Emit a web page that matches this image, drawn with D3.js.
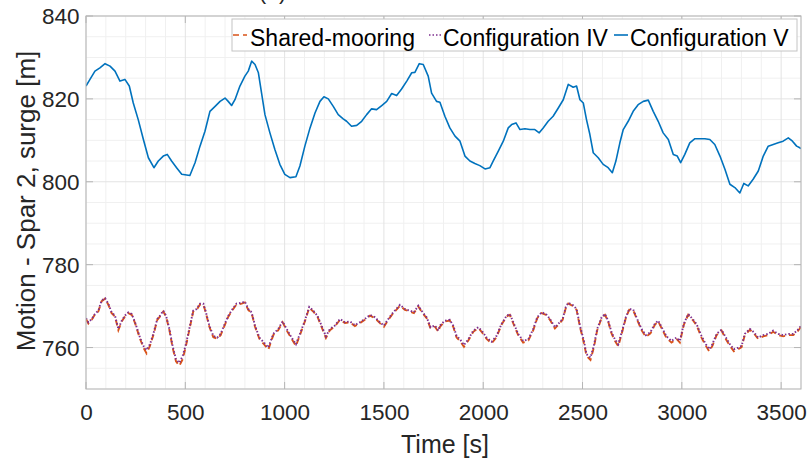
<!DOCTYPE html>
<html><head><meta charset="utf-8">
<script src="https://cdn.jsdelivr.net/npm/d3@7"></script>
<style>
html,body{margin:0;padding:0;background:#fff;}
svg{display:block;font-family:"Liberation Sans",Arial,sans-serif;}
</style></head>
<body>
<svg id="c" width="810" height="461"></svg>
<script>
// ---- data ----
const seriesNames = ["Shared-mooring", "Configuration IV", "Configuration V"];
const xTicks = [0, 500, 1000, 1500, 2000, 2500, 3000, 3500];
const yTicks = [760, 780, 800, 820, 840];
const titleText = "(a)";

const timeV = [0,20,45,70,96,121,146,171,196,218,238,263,289,314,342,364,389,409,431,456,482,523,549,574,599,624,650,675,700,716,733,750,775,800,817,834,851,868,884,901,926,951,976,1001,1027,1057,1077,1102,1128,1153,1178,1198,1220,1245,1270,1295,1312,1337,1363,1388,1413,1438,1463,1489,1514,1539,1564,1589,1615,1640,1656,1678,1698,1723,1740,1765,1782,1807,1832,1858,1883,1908,1933,1958,1983,2009,2034,2050,2076,2101,2126,2143,2165,2185,2210,2235,2260,2282,2302,2327,2352,2378,2403,2428,2453,2470,2487,2504,2520,2537,2554,2579,2604,2629,2650,2668,2688,2705,2730,2755,2780,2806,2831,2856,2881,2906,2932,2957,2977,2994,3015,3040,3066,3091,3116,3141,3166,3192,3217,3242,3267,3292,3312,3334,3359,3385,3410,3435,3460,3485,3510,3536,3557,3578,3594,3600];
const surgeV = [823.1,824.7,826.7,827.5,828.5,827.9,826.7,824.3,824.7,823.1,819.0,815.0,810.2,805.8,803.4,805.0,806.2,806.6,805.0,803.4,801.8,801.5,804.6,808.6,812.2,817.0,818.2,819.4,820.2,819.4,818.4,819.8,823.1,825.5,826.7,829.1,828.3,826.3,821.4,816.2,811.8,807.8,804.2,801.8,801.0,801.2,803.8,808.6,813.0,816.6,819.4,820.5,820.0,818.2,816.2,815.2,814.6,813.4,813.6,814.6,816.2,817.6,817.4,818.4,819.4,821.3,820.8,822.4,824.3,826.3,826.4,828.5,828.3,825.5,821.4,819.4,819.2,815.8,813.0,811.0,809.8,806.2,805.0,804.4,803.9,803.1,803.4,805.0,807.4,809.8,813.0,813.8,814.2,812.6,812.8,812.6,812.6,811.8,813.0,814.6,815.8,817.8,819.8,823.5,822.8,823.1,819.8,819.0,815.0,811.4,807.0,805.8,804.2,803.4,802.2,805.0,809.4,812.6,814.6,817.0,818.6,819.4,819.7,817.0,814.6,811.8,810.2,806.6,806.2,804.6,806.6,809.4,810.4,810.4,810.4,810.2,809.0,806.2,803.0,799.4,798.6,797.3,799.6,799.0,800.6,802.6,806.2,808.6,809.0,809.4,809.8,810.6,809.8,808.6,808.2,808.0];

const timeLow = [0,12,29,45,62,79,96,112,129,146,163,180,196,213,230,247,272,289,305,322,339,359,373,389,403,420,436,453,470,487,503,520,540,557,574,591,604,621,641,661,678,695,717,738,758,784,800,817,834,851,873,896,918,943,968,990,1010,1035,1057,1077,1102,1124,1144,1165,1186,1208,1228,1253,1279,1304,1329,1354,1379,1404,1430,1455,1480,1500,1522,1547,1581,1606,1631,1651,1673,1695,1715,1735,1757,1774,1782,1807,1832,1849,1866,1883,1903,1925,1950,1975,1992,2017,2042,2067,2092,2118,2134,2155,2176,2201,2227,2252,2272,2294,2316,2336,2361,2378,2400,2416,2428,2453,2470,2487,2507,2520,2540,2557,2574,2596,2613,2629,2646,2663,2680,2702,2718,2735,2755,2775,2797,2819,2842,2864,2881,2903,2923,2948,2973,2990,3010,3032,3054,3074,3099,3121,3138,3154,3175,3200,3222,3242,3262,3284,3301,3317,3343,3363,3384,3410,3435,3460,3485,3510,3536,3561,3581,3594,3600];
const surgeIV = [767.1,766.1,766.9,768.1,768.9,771.4,771.9,770.6,768.5,767.7,764.5,766.5,767.7,768.5,768.1,766.1,762.4,760.4,759.4,760.8,763.3,766.9,767.7,768.9,767.7,764.5,760.4,757.2,756.3,758.0,760.8,764.5,768.9,769.3,770.6,770.6,768.5,765.3,762.8,762.4,763.3,765.3,767.7,769.3,770.6,770.8,771.1,769.3,768.5,765.3,762.4,761.2,760.0,763.3,764.5,766.3,764.5,762.4,760.8,763.3,766.5,769.8,768.9,767.7,765.3,762.7,764.5,765.3,766.9,766.1,766.3,765.4,766.1,766.9,767.9,767.3,766.1,765.3,766.9,768.5,770.3,769.3,768.9,768.5,770.1,768.5,767.3,764.9,765.3,764.1,765.3,766.5,766.7,765.3,762.8,762.0,760.6,762.0,764.1,764.9,764.1,762.4,761.4,762.8,765.7,767.7,768.1,765.7,763.3,761.6,762.0,764.5,767.3,768.5,768.1,766.9,764.9,765.7,766.9,769.8,770.8,770.2,769.3,765.3,761.6,758.4,757.6,760.4,764.5,767.3,768.1,766.5,763.7,762.0,760.8,764.5,767.3,769.3,769.2,766.9,764.5,763.0,763.7,765.7,766.5,764.5,762.7,761.6,762.4,761.6,765.7,768.1,766.9,765.7,762.8,760.8,759.6,760.8,763.3,764.3,762.4,760.8,759.6,760.0,760.4,763.3,764.5,763.7,762.4,763.0,763.3,764.1,763.3,763.0,763.3,763.3,764.1,764.9,765.2];
const surgeShared = [766.9,765.8,766.7,768.0,768.7,771.2,771.8,770.4,768.3,767.5,764.2,766.3,767.5,768.3,767.9,765.9,762.1,760.0,758.6,760.4,763.0,766.7,767.5,768.7,767.5,764.2,760.0,756.7,755.6,757.2,760.3,764.2,768.7,769.1,770.4,770.4,768.3,765.0,762.5,762.1,763.0,765.0,767.5,769.1,770.4,770.6,770.9,769.1,768.3,765.0,762.1,760.8,759.5,763.0,764.2,766.1,764.2,762.1,760.4,763.0,766.3,769.6,768.7,767.5,765.0,762.3,764.2,765.1,766.7,765.9,766.1,765.2,765.9,766.7,767.7,767.1,765.9,765.0,766.7,768.3,770.1,769.1,768.7,768.3,769.9,768.3,767.1,764.6,765.0,763.8,765.0,766.3,766.5,765.0,762.4,761.6,760.2,761.7,763.8,764.7,763.8,762.1,761.0,762.5,765.5,767.5,767.9,765.4,763.0,761.2,761.7,764.2,767.1,768.3,767.9,766.7,764.6,765.5,766.7,769.6,770.6,770.0,769.1,765.0,761.1,758.0,757.0,760.0,764.2,767.1,767.9,766.3,763.4,761.6,760.3,764.2,767.1,769.1,769.0,766.7,764.2,762.6,763.4,765.5,766.3,764.2,762.3,761.2,762.1,761.2,765.5,767.9,766.7,765.4,762.4,760.4,759.1,760.4,763.0,764.1,762.0,760.4,759.1,759.6,760.1,763.0,764.3,763.4,762.1,762.7,763.0,763.8,763.0,762.7,763.0,763.0,763.8,764.6,765.0];

// ---- layout ----
const L = 86, R = 801, T = 16, B = 389;
const svg = d3.select("#c");
const x = d3.scaleLinear().domain([0, 3600]).range([L, R]);
const y = d3.scaleLinear().domain([750, 840]).range([B, T]);

const colors = {"Shared-mooring": "#D95319", "Configuration IV": "#7E2F8E", "Configuration V": "#0072BD"};
const dashes = {"Shared-mooring": "6,4", "Configuration IV": "1.5,2", "Configuration V": null};
const widths = {"Shared-mooring": 1.9, "Configuration IV": 1.9, "Configuration V": 1.6};

// title (cut off at top, as in the reference)
svg.append("text").attr("x", 272.5).attr("y", -1.5).attr("text-anchor", "middle")
  .attr("font-size", 23).attr("fill", "#262626").text(titleText);

// grid
const g = svg.append("g");
const minorX = d3.range(0, 3601, 100).filter(v => v % 500 !== 0);
const minorY = d3.range(750, 841, 5).filter(v => v % 20 !== 0);
g.selectAll(".mx").data(minorX).join("line")
  .attr("x1", d => x(d)).attr("x2", d => x(d)).attr("y1", T).attr("y2", B)
  .attr("stroke", "#f0f0f0").attr("stroke-width", 1);
g.selectAll(".my").data(minorY).join("line")
  .attr("x1", L).attr("x2", R).attr("y1", d => y(d)).attr("y2", d => y(d))
  .attr("stroke", "#f0f0f0").attr("stroke-width", 1);
g.selectAll(".gx").data(xTicks).join("line")
  .attr("x1", d => x(d)).attr("x2", d => x(d)).attr("y1", T).attr("y2", B)
  .attr("stroke", "#e3e3e3").attr("stroke-width", 1);
g.selectAll(".gy").data(yTicks).join("line")
  .attr("x1", L).attr("x2", R).attr("y1", d => y(d)).attr("y2", d => y(d))
  .attr("stroke", "#e3e3e3").attr("stroke-width", 1);

// clip
svg.append("clipPath").attr("id", "clip").append("rect")
  .attr("x", L).attr("y", T).attr("width", R - L).attr("height", B - T);

const line = d3.line().x(d => x(d[0])).y(d => y(d[1]));
const plot = svg.append("g").attr("clip-path", "url(#clip)");
const mk = (ts, vs) => ts.map((t, i) => [t, vs[i]]);

plot.append("path").datum(mk(timeV, surgeV)).attr("d", line)
  .attr("fill", "none").attr("stroke", colors["Configuration V"]).attr("stroke-width", widths["Configuration V"])
  .attr("stroke-linejoin", "round");
plot.append("path").datum(mk(timeLow, surgeShared)).attr("d", line)
  .attr("fill", "none").attr("stroke", colors["Shared-mooring"]).attr("stroke-width", widths["Shared-mooring"])
  .attr("stroke-dasharray", dashes["Shared-mooring"]);
plot.append("path").datum(mk(timeLow, surgeIV)).attr("d", line)
  .attr("fill", "none").attr("stroke", colors["Configuration IV"]).attr("stroke-width", widths["Configuration IV"])
  .attr("stroke-dasharray", dashes["Configuration IV"]);

// axes box
const axCol = "#b5b5b5";
svg.append("rect").attr("x", L).attr("y", T).attr("width", R - L).attr("height", B - T)
  .attr("fill", "none").attr("stroke", axCol).attr("stroke-width", 1);
const tl = 7;
const axX = svg.append("g").attr("transform", `translate(0,${B})`)
  .call(d3.axisBottom(x).tickValues(xTicks).tickSize(0).tickPadding(0).tickFormat(d3.format("d")));
axX.select(".domain").remove();
axX.selectAll("text").attr("font-size", 22.5).attr("fill", "#262626")
  .attr("font-family", "Liberation Sans, Arial, sans-serif").attr("dy", null).attr("y", 31);
const axY = svg.append("g").attr("transform", `translate(${L},0)`)
  .call(d3.axisLeft(y).tickValues(yTicks).tickSize(0).tickPadding(0).tickFormat(d3.format("d")));
axY.select(".domain").remove();
axY.selectAll("text").attr("font-size", 22.5).attr("fill", "#262626")
  .attr("font-family", "Liberation Sans, Arial, sans-serif").attr("x", -6.5).attr("dy", "0.35em");
// inward ticks on all four sides
svg.append("g").selectAll("line").data(xTicks).join("line")
  .attr("x1", d => x(d)).attr("x2", d => x(d)).attr("y1", B).attr("y2", B - tl).attr("stroke", axCol);
svg.append("g").selectAll("line").data(xTicks).join("line")
  .attr("x1", d => x(d)).attr("x2", d => x(d)).attr("y1", T).attr("y2", T + tl).attr("stroke", axCol);
svg.append("g").selectAll("line").data(yTicks).join("line")
  .attr("x1", L).attr("x2", L + tl).attr("y1", d => y(d)).attr("y2", d => y(d)).attr("stroke", axCol);
svg.append("g").selectAll("line").data(yTicks).join("line")
  .attr("x1", R).attr("x2", R - tl).attr("y1", d => y(d)).attr("y2", d => y(d)).attr("stroke", axCol);

// axis labels
svg.append("text").attr("x", 445).attr("y", 453).attr("text-anchor", "middle")
  .attr("font-size", 25).attr("fill", "#262626").text("Time [s]");
svg.append("text").attr("transform", `translate(35,201) rotate(-90)`)
  .attr("text-anchor", "middle").attr("font-size", 26).attr("fill", "#262626")
  .text("Motion - Spar 2, surge [m]");

// legend
const lg = svg.append("g");
lg.append("rect").attr("x", 232).attr("y", 19).attr("width", 565).attr("height", 32)
  .attr("fill", "#fff").attr("stroke", "#c4c4c4").attr("stroke-width", 1);
const sampleX = [233, 429, 614];
const textX = [250, 443, 630];
seriesNames.forEach((name, i) => {
  lg.append("line").attr("x1", sampleX[i]).attr("x2", sampleX[i] + 14).attr("y1", 35).attr("y2", 35)
    .attr("stroke", colors[name]).attr("stroke-width", 1.6)
    .attr("stroke-dasharray", dashes[name]);
  lg.append("text").attr("x", textX[i]).attr("y", 45.5).attr("font-size", 23)
    .attr("fill", "#000").text(name);
});
</script>
</body></html>
